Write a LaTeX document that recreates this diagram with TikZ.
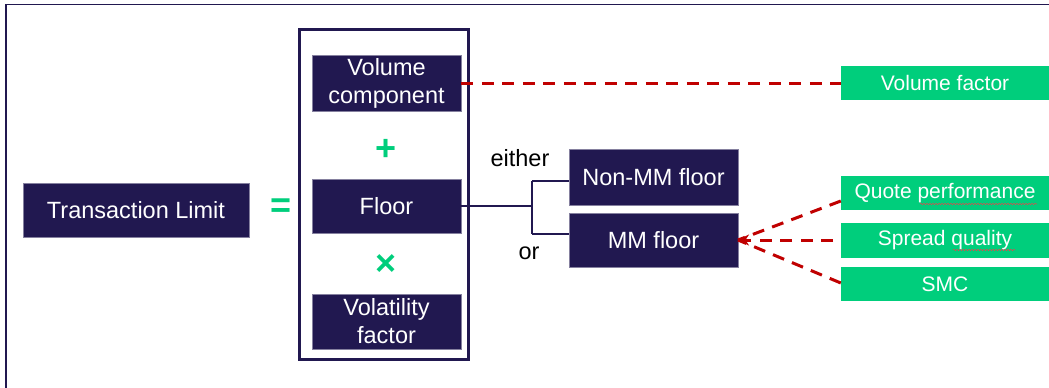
\documentclass[tikz,border=0pt]{standalone}
\usepackage{fontspec}
\setmainfont{Liberation Sans}
\usetikzlibrary{arrows.meta,decorations.pathmorphing}
\definecolor{navy}{RGB}{33,24,80}
\definecolor{mint}{RGB}{0,206,124}
\definecolor{dred}{RGB}{192,0,0}
\definecolor{squig}{RGB}{210,80,80}
\begin{document}
\begin{tikzpicture}[x=1pt,y=-1pt,
  navybox/.style={fill=navy, draw=navy!55!white, line width=0.6pt, text=white, inner sep=0pt,
    align=center, font=\fontsize{23.5}{28}\selectfont},
  greenbox/.style={fill=mint, draw=none, text=white, inner sep=0pt,
    minimum width=208pt, minimum height=34pt, font=\fontsize{21}{25}\selectfont},
  sym/.style={text=mint, inner sep=0pt, font=\fontsize{36}{36}\selectfont\bfseries},
  conn/.style={draw=navy, line width=2.2pt},
  reddash/.style={draw=dred, line width=3pt, dash pattern=on 12pt off 8.5pt},
  plain/.style={inner sep=0pt, font=\fontsize{23.5}{28}\selectfont},
  squiggle/.style={draw=squig, line width=0.6pt, decorate,
    decoration={snake, amplitude=0.7pt, segment length=3pt}}]
\useasboundingbox (0,0) rectangle (1049,388);
% frame
\draw[navy, line width=1.5pt] (6,388) -- (6,4.5) -- (1049,4.5);
% left
\node[navybox, minimum width=226pt, minimum height=54pt] (tl) at (136,210) {Transaction Limit};
\node[sym] (eq) at (281,208) {=};
% group box
\node[draw=navy, line width=3pt, minimum width=169pt, minimum height=330pt, inner sep=0pt] (grp) at (384,194.5) {};
\node[navybox, minimum width=149pt, minimum height=56pt] (vol) at (386.5,83) {Volume\\component};
\node[sym] (plus) at (386,150) {+};
\node[navybox, minimum width=149pt, minimum height=54pt] (floor) at (386.5,206) {Floor};
\node[sym] (times) at (386,265) {×};
\node[navybox, minimum width=149pt, minimum height=55pt] (vf) at (386.5,321.5) {Volatility\\factor};
% floors
\node[navybox, minimum width=169pt, minimum height=56pt] (nonmm) at (653.5,177) {Non-MM floor};
\node[navybox, minimum width=169pt, minimum height=54pt] (mm) at (653.5,240) {MM floor};
\node[plain] (either) at (520,158) {either};
\node[plain] (or) at (529,253) {or};
\coordinate (br) at (532,206);
\draw[conn] (floor.east) -- (br);
\draw[conn] (br |- 0,181) -- (br |- 0,234);
\draw[conn] (br |- 0,181) -- (nonmm.west |- 0,181);
\draw[conn] (br |- 0,234) -- (mm.west |- 0,234);
% green
\node[greenbox] (vfac) at (945,83) {Volume factor};
\node[greenbox] (qp) at (945,193) {Quote performance};
\node[greenbox, minimum height=35pt] (sq) at (945,240.5) {Spread quality};
\node[greenbox] (smc) at (945,284) {SMC};
\draw[squiggle] (920,204) -- (1037,204);
\draw[squiggle] (953,250) -- (1015,250);
% red dashed
\draw[reddash] (vol.east) -- (vfac.west);
\coordinate (tip) at (738,240);
\draw[reddash] (qp.west |- 0,201) -- (tip);
\draw[reddash] (smc.west |- 0,283) -- (tip);
\draw[reddash, -{Stealth[length=11pt,width=11pt]}] (833,240) -- (tip);
\end{tikzpicture}
\end{document}
